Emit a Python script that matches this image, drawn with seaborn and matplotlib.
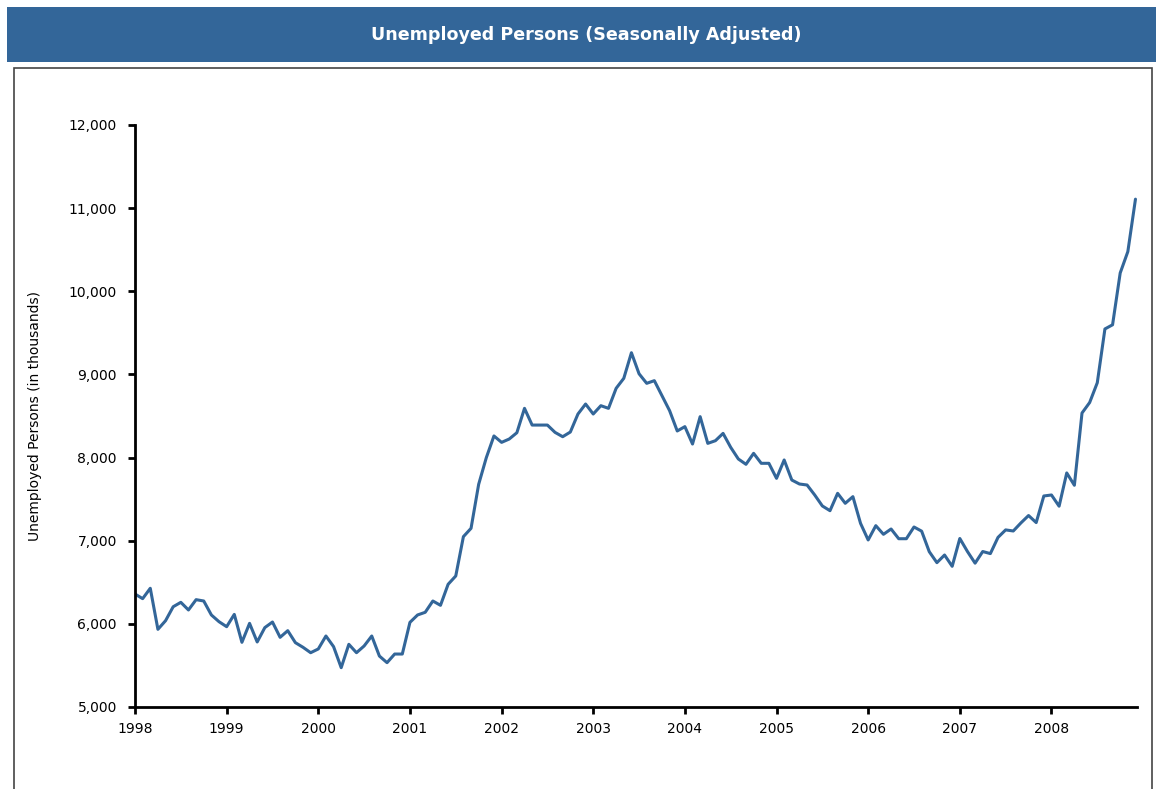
import matplotlib
matplotlib.use("Agg")
import matplotlib.pyplot as plt
from matplotlib.patches import Rectangle
from matplotlib.ticker import FuncFormatter
import seaborn as sns
import pandas as pd
import numpy as np

# Monthly unemployed persons (thousands), seasonally adjusted, Jan 1998 - Dec 2008
years = list(range(1998, 2009))
v1998 = [6359, 6303, 6428, 5934, 6038, 6206, 6259, 6167, 6291, 6275, 6107, 6026]
v1999 = [5966, 6114, 5778, 6006, 5782, 5955, 6022, 5838, 5918, 5774, 5718, 5653]
v2000 = [5698, 5854, 5726, 5473, 5754, 5653, 5734, 5854, 5613, 5533, 5637, 5637]
v2001 = [6018, 6107, 6139, 6275, 6223, 6476, 6576, 7049, 7149, 7679, 7999, 8260]
v2002 = [8183, 8223, 8299, 8592, 8391, 8391, 8391, 8303, 8251, 8307, 8524, 8644]
v2003 = [8524, 8624, 8592, 8833, 8953, 9261, 9008, 8893, 8925, 8745, 8564, 8320]
v2004 = [8372, 8163, 8492, 8171, 8203, 8291, 8123, 7983, 7919, 8051, 7931, 7931]
v2005 = [7750, 7971, 7730, 7682, 7670, 7550, 7418, 7361, 7570, 7450, 7530, 7209]
v2006 = [7009, 7181, 7077, 7141, 7024, 7024, 7165, 7115, 6868, 6736, 6828, 6692]
v2007 = [7027, 6870, 6730, 6870, 6845, 7040, 7130, 7117, 7214, 7303, 7218, 7538]
v2008 = [7550, 7415, 7815, 7667, 8536, 8662, 8900, 9547, 9597, 10220, 10477, 11108]

values = v1998 + v1999 + v2000 + v2001 + v2002 + v2003 + v2004 + v2005 + v2006 + v2007 + v2008
t = [y + m / 12.0 for y in years for m in range(12)]
df = pd.DataFrame({"time": t, "unemployed": values})

y_ticks = [5000, 6000, 7000, 8000, 9000, 10000, 11000, 12000]
x_ticks = years

title = "Unemployed Persons (Seasonally Adjusted)"
ylabel = "Unemployed Persons (in thousands)"

sns.set_theme(style="white")
plt.rcParams["font.family"] = ["DejaVu Sans"]

W, H = 1156, 789
fig = plt.figure(figsize=(W / 100, H / 100), dpi=100)

blue = "#336699"
# title band
fig.patches.append(Rectangle((7 / W, 1 - 62 / H), 1149 / W, 55 / H,
                             transform=fig.transFigure, facecolor=blue,
                             edgecolor="none", zorder=-5))
fig.text(586 / W, 1 - 35 / H, title, color="white", fontsize=12.6,
         fontweight="bold", ha="center", va="center")
# frame
fig.patches.append(Rectangle((14 / W, -0.02), (1152 - 14) / W, 1 - 68 / H + 0.02,
                             transform=fig.transFigure, facecolor="none",
                             edgecolor="#444444", linewidth=1.2, zorder=-5))

ax = fig.add_axes([135 / W, 1 - 707 / H, 1002 / W, (707 - 125) / H])
ax.set_facecolor("none")
ax.set_zorder(5)
sns.lineplot(data=df, x="time", y="unemployed", ax=ax, color=blue, linewidth=2.2)

ax.set_xlim(1998, 1998 + 131.2 / 12)
ax.set_ylim(5000, 12000)
ax.set_yticks(y_ticks)
ax.set_xticks(x_ticks)
ax.set_xticklabels([str(y) for y in x_ticks])
ax.yaxis.set_major_formatter(FuncFormatter(lambda v, p: f"{int(v):,}"))

for s in ["top", "right"]:
    ax.spines[s].set_visible(False)
for s in ["left", "bottom"]:
    ax.spines[s].set_color("black")
    ax.spines[s].set_linewidth(2.0)

ax.tick_params(axis="both", which="major", direction="out", length=5, width=2,
               color="black", labelsize=10, labelcolor="black", bottom=True, left=True)
ax.tick_params(axis="y", pad=8)
ax.tick_params(axis="x", pad=6)
ax.set_xlabel("")
ax.set_ylabel("")
fig.text(35 / W, 1 - 416 / H, ylabel, rotation=90, fontsize=10,
         ha="center", va="center", color="black")
ax.grid(False)

fig.savefig("out.png", dpi=100)
